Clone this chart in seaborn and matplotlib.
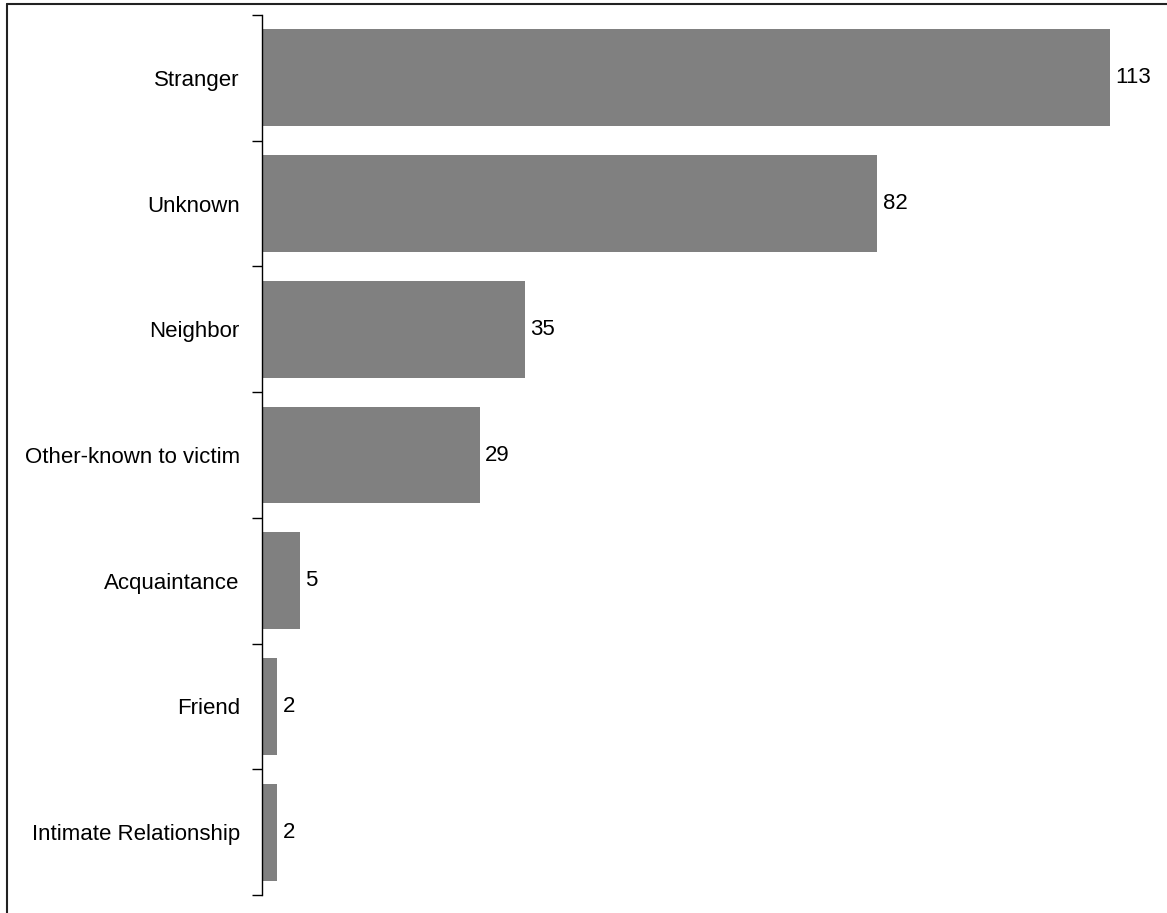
import matplotlib
matplotlib.use("Agg")
import matplotlib.pyplot as plt
import seaborn as sns
import pandas as pd
from matplotlib.lines import Line2D
from matplotlib import font_manager

categories = ["Stranger", "Unknown", "Neighbor", "Other-known to victim",
              "Acquaintance", "Friend", "Intimate Relationship"]
values = [113, 82, 35, 29, 5, 2, 2]

df = pd.DataFrame({"category": categories, "value": values})

sns.set_style("white")
names = {f.name for f in font_manager.fontManager.ttflist}
fam = ["Liberation Sans Narrow", "Liberation Sans", "DejaVu Sans"]
plt.rcParams["font.family"] = [f for f in fam if f in names] or ["DejaVu Sans"]
plt.rcParams["text.color"] = "black"
plt.rcParams["ytick.color"] = "black"
plt.rcParams["ytick.labelcolor"] = "black"

fig = plt.figure(figsize=(11.67, 9.13), dpi=100)
ax = fig.add_axes([262/1167, 1 - 895/913, (1162 - 262)/1167, 880/913])

sns.barplot(data=df, x="value", y="category", orient="h", color="#808080",
            saturation=1, width=0.77, ax=ax, edgecolor="none")

ax.set_xlim(0, 120)
ax.set_ylim(len(categories) - 0.5, -0.5)
for s in ["top", "right", "bottom"]:
    ax.spines[s].set_visible(False)
ax.spines["left"].set_color("black")
ax.spines["left"].set_linewidth(1)
ax.set_xticks([])
ax.set_xlabel("")
ax.set_ylabel("")
ax.set_yticks(range(len(categories)))
ax.set_yticklabels(categories, fontsize=16, color="black")
ax.tick_params(axis="y", which="major", left=True, length=0, pad=16)
ax.set_yticks([i - 0.5 for i in range(len(categories) + 1)], minor=True)
ax.tick_params(axis="y", which="minor", left=True, length=7, width=1,
               direction="out", color="black")

for i, v in enumerate(values):
    ax.annotate(f"{v}", (v, i), xytext=(4, 0), textcoords="offset points",
                va="center", ha="left", fontsize=16, color="black")

fig.add_artist(Line2D([7/1167, 7/1167], [0, 1 - 4/913], transform=fig.transFigure,
                      color="#222222", linewidth=1.5))
fig.add_artist(Line2D([7/1167, 1], [1 - 4/913, 1 - 4/913], transform=fig.transFigure,
                      color="#222222", linewidth=1.5))

fig.savefig("out.png", dpi=100)
